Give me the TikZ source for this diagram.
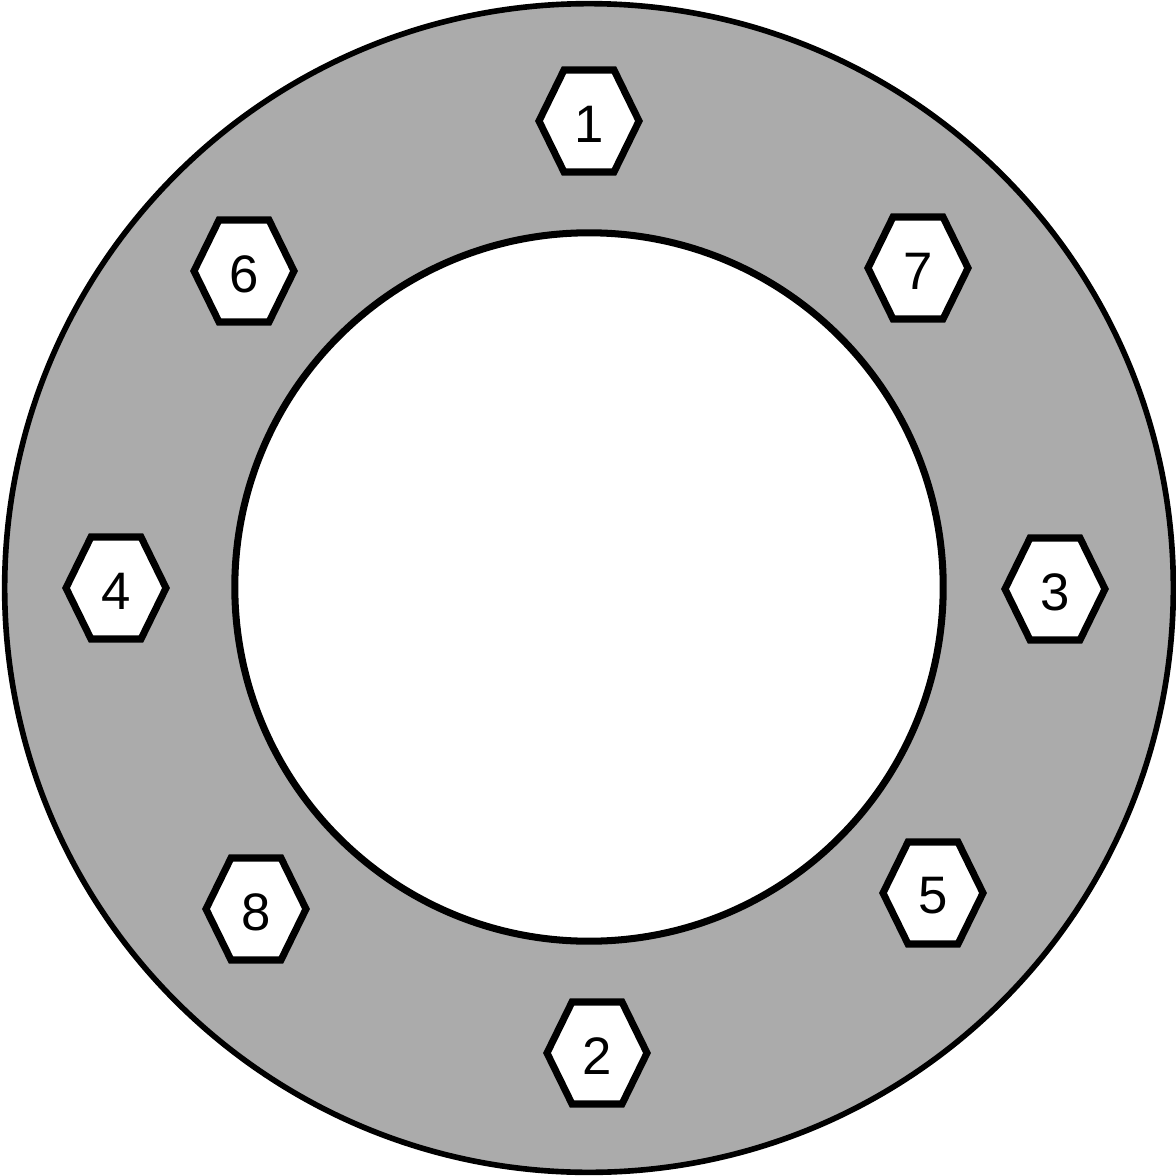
\documentclass[tikz,border=0pt]{standalone}
\usepackage{fontspec}
\setmainfont{Liberation Sans}
\tikzset{
  bolt/.pic = {
    \draw [line width=2pt, fill=white, line join=miter]
      (-50,0) -- (-25,-51) -- (25,-51) -- (50,0) -- (25,51) -- (-25,51) -- cycle;
    \node [font=\fontsize{15}{15}\selectfont] (-label) at (0,3) {#1};
  }
}
\begin{document}
\begin{tikzpicture}[x=0.01cm, y=-0.01cm]
  \useasboundingbox (0,0) rectangle (1176,1176);
  \draw [line width=1.6pt, fill=black!33] (589,588) circle (5.84cm);
  \draw [line width=2pt, fill=white] (589,587) circle (3.54cm);

  \pic (b1) at (589,121) {bolt=1};
  \pic (b2) at (597,1053) {bolt=2};
  \pic (b3) at (1055,589) {bolt=3};
  \pic (b4) at (116,588) {bolt=4};
  \pic (b5) at (933,893) {bolt=5};
  \pic (b6) at (244,271) {bolt=6};
  \pic (b7) at (918,268) {bolt=7};
  \pic (b8) at (256,909) {bolt=8};
\end{tikzpicture}
\end{document}
